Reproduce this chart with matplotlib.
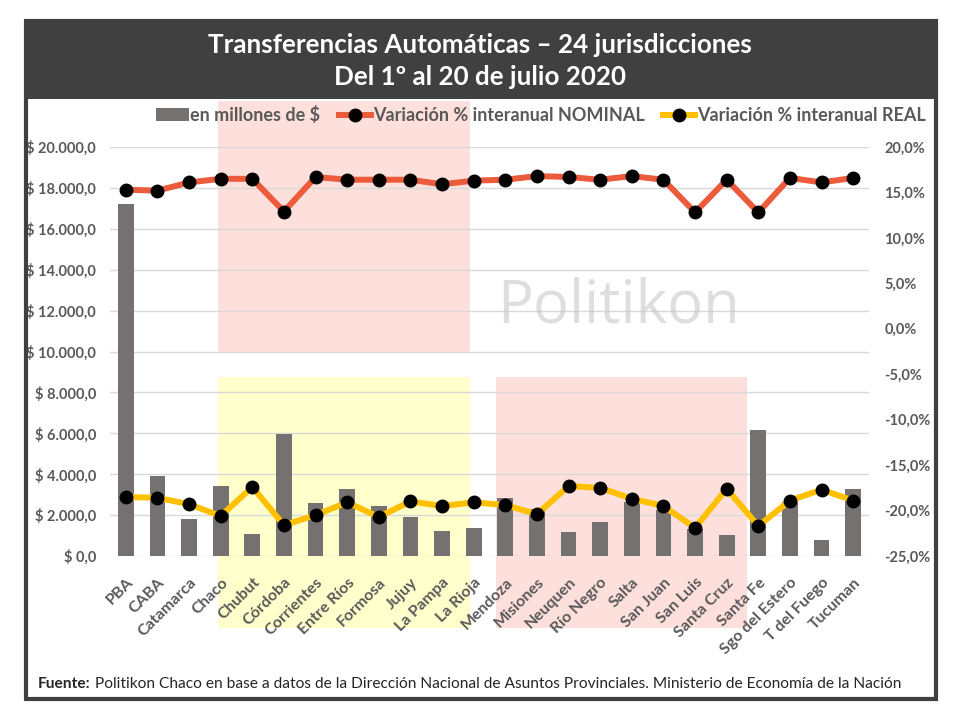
import numpy as np
import matplotlib
matplotlib.use("Agg")
import matplotlib.pyplot as plt
import matplotlib.transforms as mtransforms
from matplotlib.patches import Rectangle
from matplotlib.lines import Line2D
from matplotlib.ticker import FuncFormatter

plt.rcParams['font.family'] = ['Lato', 'DejaVu Sans']

# datos: transferencias en millones de $ y variaciones % interanuales
provincias = ['PBA', 'CABA', 'Catamarca', 'Chaco', 'Chubut', 'Córdoba', 'Corrientes',
              'Entre Ríos', 'Formosa', 'Jujuy', 'La Pampa', 'La Rioja', 'Mendoza',
              'Misiones', 'Neuquen', 'Río Negro', 'Salta', 'San Juan', 'San Luis',
              'Santa Cruz', 'Santa Fe', 'Sgo del Estero', 'T del Fuego', 'Tucuman']
millones = [17200, 3900, 1800, 3420, 1080, 5970, 2590, 3280, 2450, 1910, 1220, 1370,
            2830, 2300, 1170, 1660, 2650, 2250, 1300, 1030, 6160, 2650, 780, 3280]
var_nominal = [15.3, 15.2, 16.1, 16.5, 16.5, 12.9, 16.7, 16.4, 16.4, 16.4, 15.9, 16.3,
               16.4, 16.8, 16.7, 16.4, 16.8, 16.4, 12.8, 16.4, 12.8, 16.6, 16.1, 16.6]
var_real = [-18.5, -18.6, -19.3, -20.6, -17.4, -21.6, -20.5, -19.1, -20.7, -19.0, -19.5, -19.1,
            -19.4, -20.4, -17.3, -17.5, -18.7, -19.5, -21.9, -17.6, -21.7, -18.9, -17.7, -18.9]

gris_txt = '#595959'
oscuro = '#404040'

fig = plt.figure(figsize=(9.6, 7.2), dpi=100)
ax = fig.add_axes([110/960, 1-556/720, 759/960, 409/720])
ax2 = ax.twinx()

x = np.arange(len(provincias))

# zonas sombreadas (x en datos, y en fraccion del eje)
trans = mtransforms.blended_transform_factory(ax.transData, ax.transAxes)
zonas = [(2.9, 10.87, 0.499, 1.112, '#FDDFDB'),
         (2.9, 10.87, -0.176, 0.4377, '#FFFFCC'),
         (11.72, 19.63, -0.176, 0.4377, '#FDDFDB')]
for x0, x1, y0, y1, c in zonas:
    ax.add_patch(Rectangle((x0, y0), x1-x0, y1-y0, transform=trans, facecolor=c,
                           edgecolor='none', clip_on=False, zorder=0.1))

ax.bar(x, millones, width=0.5, color='#767171', zorder=2)
ax.set_ylim(0, 20000)
ax.set_xlim(-0.5, len(provincias)-0.5)
ax.set_yticks(np.arange(0, 20001, 2000))
ax.yaxis.set_major_formatter(FuncFormatter(
    lambda v, p: '$ ' + f'{v:,.1f}'.replace(',', 'X').replace('.', ',').replace('X', '.')))
ax.grid(axis='y', color='#D9D9D9', linewidth=1, zorder=0.5)
ax.set_axisbelow(True)
ax.set_xticks(x)
ax.set_xticklabels(provincias, rotation=45, ha='right', va='top', rotation_mode='anchor')

ax2.plot(x, var_nominal, color='#EB5B3C', linewidth=4.3, marker='o', markersize=9,
         markerfacecolor='black', markeredgecolor='black', zorder=3)
ax2.plot(x, var_real, color='#FFC000', linewidth=4.3, marker='o', markersize=9,
         markerfacecolor='black', markeredgecolor='black', zorder=3)
ax2.set_ylim(-25, 20)
ax2.set_yticks(np.arange(-25, 21, 5))
ax2.yaxis.set_major_formatter(FuncFormatter(lambda v, p: f'{v:.1f}%'.replace('.', ',')))

for a in (ax, ax2):
    for s in a.spines.values():
        s.set_visible(False)
    a.tick_params(length=0, labelsize=10.5, labelcolor=gris_txt)
    for lab in a.get_yticklabels() + a.get_xticklabels():
        lab.set_fontweight('bold')
ax.tick_params(axis='y', pad=10)
ax2.tick_params(axis='y', pad=11)
ax.tick_params(axis='x', pad=14, labelsize=11.5)

# marca de agua
ax.text(0.67, 0.61, 'Politikon', transform=ax.transAxes, fontsize=43, color='#C8C8C8',
        alpha=0.6, ha='center', va='center', family='Open Sans', zorder=1)

# leyenda
handles = [Rectangle((0, 0), 1, 1, facecolor='#767171'),
           Line2D([], [], color='#EB5B3C', linewidth=4.3, marker='o', markersize=9,
                  markerfacecolor='black', markeredgecolor='black'),
           Line2D([], [], color='#FFC000', linewidth=4.3, marker='o', markersize=9,
                  markerfacecolor='black', markeredgecolor='black')]
labels = ['en millones de $', 'Variación % interanual NOMINAL', 'Variación % interanual REAL']
leg = fig.legend(handles, labels, loc='center', bbox_to_anchor=(541/960, 1-115/720), ncol=3,
                 frameon=False, handlelength=1.8, handletextpad=0.1, columnspacing=1.0,
                 prop={'size': 13, 'weight': 'bold'})
for t in leg.get_texts():
    t.set_color(gris_txt)

# marco y barra de titulo
fig.patches.append(Rectangle((24/960, 1-99/720), 914/960, 80/720, transform=fig.transFigure,
                             facecolor=oscuro, edgecolor='none', zorder=0))
fig.patches.append(Rectangle((26/960, 1-699/720), 910/960, 678/720, transform=fig.transFigure,
                             facecolor='none', edgecolor=oscuro, linewidth=3, zorder=5))

fig.text(0.5, 1-45/720, 'Transferencias Automáticas – 24 jurisdicciones', ha='center',
         va='center', color='white', fontsize=18.7, fontweight='bold')
fig.text(0.5, 1-77/720, 'Del 1º al 20 de julio 2020', ha='center', va='center',
         color='white', fontsize=18.7, fontweight='bold')

t1 = fig.text(38/960, 1-691/720, 'Fuente:', ha='left', va='bottom', fontsize=11.2,
              fontweight='bold', color='#262626')
ax.annotate(' Politikon Chaco en base a datos de la Dirección Nacional de Asuntos Provinciales. '
            'Ministerio de Economía de la Nación', xy=(1, 0), xycoords=t1,
            ha='left', va='bottom', fontsize=11.2, color='#262626', annotation_clip=False)

fig.savefig('out.png', dpi=100)
